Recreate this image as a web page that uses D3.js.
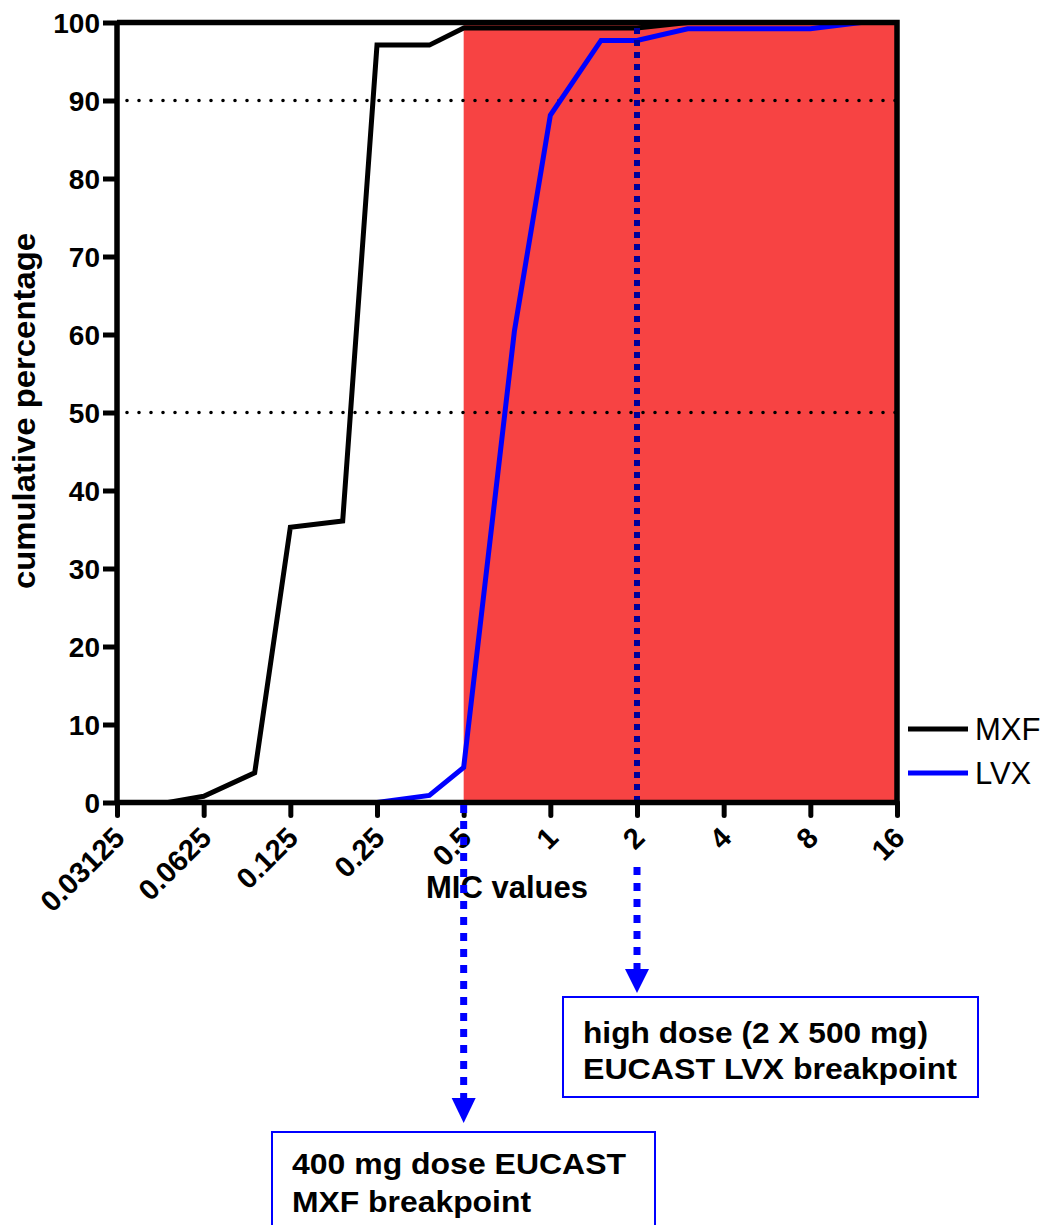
<!DOCTYPE html>
<html>
<head>
<meta charset="utf-8">
<script src="https://cdn.jsdelivr.net/npm/d3@7"></script>
<style>
  html, body { margin: 0; padding: 0; background: #fff; }
  svg { display: block; }
  text { font-family: "Liberation Sans", Arial, sans-serif; }
</style>
</head>
<body>
<svg id="chart" width="1044" height="1225"></svg>
<script>
// ---- data ----
const mic = [0.03125, 0.047, 0.0625, 0.094, 0.125, 0.19, 0.25, 0.38, 0.5, 0.75, 1, 1.5, 2, 3, 4, 6, 8, 12, 16];
const mxf = [null, 0, 0.8, 3.8, 35.3, 36.1, 97.1, 97.1, 99.3, 99.3, 99.3, 99.3, 99.3, 100, 100, 100, 100, 100, 100];
const lvx = [null, null, null, null, null, null, 0, 0.9, 4.5, 60.4, 88.1, 97.7, 97.7, 99.2, 99.2, 99.2, 99.2, 100, 100];
const xTicks = [0.03125, 0.0625, 0.125, 0.25, 0.5, 1, 2, 4, 8, 16];
const xTickLabels = ["0.03125", "0.0625", "0.125", "0.25", "0.5", "1", "2", "4", "8", "16"];
const yTicks = [0, 10, 20, 30, 40, 50, 60, 70, 80, 90, 100];
const refLines = [90, 50];
const resistantFrom = 0.5, resistantTo = 16;
const breakpoints = [
  {mic: 0.5, lines: ["400 mg dose EUCAST", "MXF breakpoint"]},
  {mic: 2, lines: ["high dose (2 X 500 mg)", "EUCAST LVX breakpoint"]}
];
const seriesNames = ["MXF", "LVX"];
const seriesColors = ["#000000", "#0000ff"];

// ---- layout ----
const svg = d3.select("#chart");
const L = 117, R = 897, T = 22.5, B = 802.5;
const x = d3.scaleLog().base(2).domain([0.03125, 16]).range([L, R]);
const y = d3.scaleLinear().domain([0, 100]).range([B, T]);
const FONT = "'Liberation Sans', Arial, sans-serif";

// resistant (red) zone
svg.append("rect")
  .attr("x", x(resistantFrom)).attr("y", y(100))
  .attr("width", x(resistantTo) - x(resistantFrom))
  .attr("height", y(0) - y(100))
  .attr("fill", "#f74343");

// dotted reference lines
svg.selectAll("line.ref").data(refLines).enter().append("line")
  .attr("class", "ref")
  .attr("x1", L + 10).attr("x2", R)
  .attr("y1", d => y(d)).attr("y2", d => y(d))
  .attr("stroke", "#000").attr("stroke-width", 3.6)
  .attr("stroke-linecap", "round").attr("stroke-dasharray", "0,12");

// series lines
const series = [mxf, lvx];
series.forEach((vals, i) => {
  const pts = mic.map((m, j) => [m, vals[j]]);
  const line = d3.line().defined(d => d[1] !== null).x(d => x(d[0])).y(d => y(d[1]));
  svg.append("path").datum(pts)
    .attr("d", line)
    .attr("fill", "none")
    .attr("stroke", seriesColors[i])
    .attr("stroke-width", 5)
    .attr("stroke-linejoin", "miter");
});

// dashed line at LVX breakpoint inside plot (navy)
svg.append("line")
  .attr("x1", x(2)).attr("x2", x(2))
  .attr("y1", 28).attr("y2", B)
  .attr("stroke", "#00009a").attr("stroke-width", 6)
  .attr("stroke-dasharray", "6,6");

// frame top/right
svg.append("path")
  .attr("d", `M${L},${T}H${R}V${B}`)
  .attr("fill", "none").attr("stroke", "#000").attr("stroke-width", 5.5);

// y axis
const yAxis = svg.append("g").attr("transform", `translate(${L},0)`)
  .call(d3.axisLeft(y).tickValues(yTicks).tickSize(14).tickSizeOuter(0).tickPadding(3));
yAxis.select(".domain").attr("stroke-width", 5.5).attr("d", `M0,${B}V${T}`);
yAxis.selectAll(".tick line").attr("stroke-width", 5);
yAxis.selectAll(".tick text")
  .attr("font-family", FONT).attr("font-size", 28).attr("font-weight", "bold")
  .attr("fill", "#000").attr("dy", "0.36em");

// x axis
const xAxis = svg.append("g").attr("transform", `translate(0,${B})`)
  .call(d3.axisBottom(x).tickValues(xTicks).tickSize(13).tickSizeOuter(0).tickFormat((d, i) => xTickLabels[i]));
xAxis.select(".domain").attr("stroke-width", 5.5).attr("d", `M${L},0H${R}`);
xAxis.selectAll(".tick line").attr("stroke-width", 5).attr("stroke-linecap", "round");
xAxis.selectAll(".tick text")
  .attr("font-family", FONT).attr("font-size", 29).attr("font-weight", "bold")
  .attr("fill", "#000")
  .attr("text-anchor", "end")
  .attr("x", 9).attr("y", 37).attr("dy", 0)
  .attr("transform", "rotate(-45, 9, 37)");

// axis titles
svg.append("text")
  .attr("x", 507).attr("y", 898)
  .attr("text-anchor", "middle")
  .attr("font-family", FONT).attr("font-size", 31).attr("font-weight", "bold")
  .text("MIC values");

svg.append("text")
  .attr("transform", "translate(35,411) rotate(-90)")
  .attr("text-anchor", "middle")
  .attr("font-family", FONT).attr("font-size", 31).attr("font-weight", "bold")
  .attr("textLength", 356).attr("lengthAdjust", "spacingAndGlyphs")
  .text("cumulative percentage");

// legend
const legY = [729, 773];
seriesNames.forEach((name, i) => {
  svg.append("line")
    .attr("x1", 908).attr("x2", 968)
    .attr("y1", legY[i]).attr("y2", legY[i])
    .attr("stroke", seriesColors[i]).attr("stroke-width", 5);
  svg.append("text")
    .attr("x", 975).attr("y", legY[i] + 11)
    .attr("font-family", FONT).attr("font-size", 31)
    .attr("fill", "#000")
    .text(name);
});

// annotations below the axis
// LVX (2) arrow
const ax2 = x(breakpoints[1].mic);
svg.append("line")
  .attr("x1", ax2).attr("x2", ax2).attr("y1", 867).attr("y2", 970)
  .attr("stroke", "#0000ff").attr("stroke-width", 7).attr("stroke-dasharray", "8,8");
svg.append("path")
  .attr("d", `M${ax2 - 12},969L${ax2 + 12},969L${ax2},993Z`).attr("fill", "#0000ff");

// MXF (0.5) arrow
const ax05 = x(breakpoints[0].mic);
svg.append("line")
  .attr("x1", ax05).attr("x2", ax05).attr("y1", 805).attr("y2", 1099)
  .attr("stroke", "#0000ff").attr("stroke-width", 7).attr("stroke-dasharray", "8,8");
svg.append("path")
  .attr("d", `M${ax05 - 12},1098L${ax05 + 12},1098L${ax05},1123Z`).attr("fill", "#0000ff");

// boxes
const boxes = [
  {x: 272, y: 1132, w: 383, h: 120, tx: 292, ty: [1174, 1212], tl: [334, 239], lines: breakpoints[0].lines},
  {x: 563, y: 997, w: 415, h: 100, tx: 583, ty: [1043, 1079], tl: [345, 374], lines: breakpoints[1].lines}
];
boxes.forEach(b => {
  svg.append("rect")
    .attr("x", b.x).attr("y", b.y).attr("width", b.w).attr("height", b.h)
    .attr("fill", "#fff").attr("stroke", "#0000ff").attr("stroke-width", 2);
  b.lines.forEach((t, i) => {
    svg.append("text")
      .attr("x", b.tx).attr("y", b.ty[i])
      .attr("font-family", FONT).attr("font-size", 30).attr("font-weight", "bold")
      .attr("textLength", b.tl[i]).attr("lengthAdjust", "spacingAndGlyphs")
      .text(t);
  });
});
</script>
</body>
</html>
